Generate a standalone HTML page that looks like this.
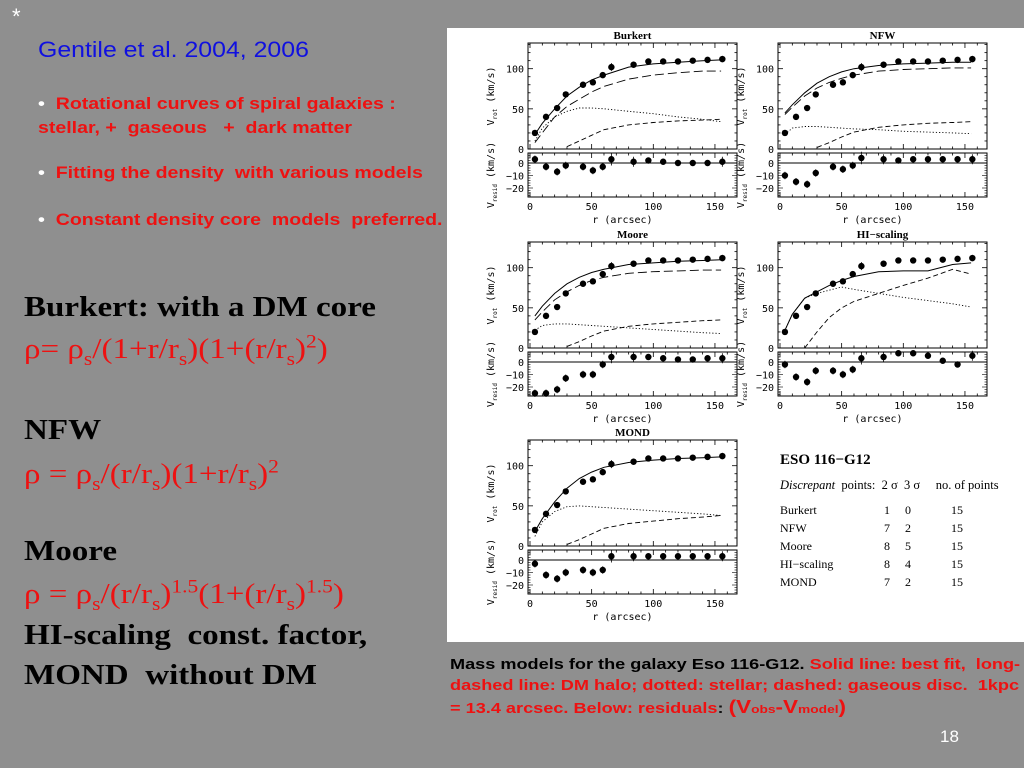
<!DOCTYPE html>
<html><head><meta charset="utf-8">
<style>
body{margin:0;width:1024px;height:768px;background:#8f8f8f;position:relative;overflow:hidden;font-family:"Liberation Sans",sans-serif}
.a{position:absolute;white-space:nowrap;transform-origin:0 0}
.red{color:#ee1111}
.b{font-weight:bold}
.ser{font-family:"Liberation Serif",serif;font-size:29px;line-height:34px;transform:scaleX(1.14)}
sub,sup{font-size:65%;line-height:0}
.bul{font-size:17px;transform:scaleX(1.15)}
</style></head><body>
<div class="a" style="left:12px;top:4px;color:#fff;font-size:22px">*</div>
<div class="a" style="left:38px;top:37px;color:#1010e0;font-size:22px;transform:scaleX(1.13)">Gentile et al. 2004, 2006</div>
<div class="a b red bul" style="left:38px;top:92px;line-height:24px"><span style="color:#fff">•</span>&nbsp; Rotational curves of spiral galaxies :<br>stellar, +&nbsp; gaseous &nbsp; +&nbsp; dark matter</div>
<div class="a b red bul" style="left:38px;top:163px"><span style="color:#fff">•</span>&nbsp; Fitting the density&nbsp; with various models</div>
<div class="a b red bul" style="left:38px;top:210px"><span style="color:#fff">•</span>&nbsp; Constant density core&nbsp; models&nbsp; preferred.</div>

<div class="a ser b" style="left:24px;top:290px">Burkert: with a DM core</div>
<div class="a ser red" style="left:24px;top:332px">ρ= ρ<sub>s</sub>/(1+r/r<sub>s</sub>)(1+(r/r<sub>s</sub>)<sup>2</sup>)</div>
<div class="a ser b" style="left:24px;top:413px">NFW</div>
<div class="a ser red" style="left:24px;top:457px">ρ = ρ<sub>s</sub>/(r/r<sub>s</sub>)(1+r/r<sub>s</sub>)<sup>2</sup></div>
<div class="a ser b" style="left:24px;top:534px">Moore</div>
<div class="a ser red" style="left:24px;top:577px">ρ = ρ<sub>s</sub>/(r/r<sub>s</sub>)<sup>1.5</sup>(1+(r/r<sub>s</sub>)<sup>1.5</sup>)</div>
<div class="a ser b" style="left:24px;top:618px">HI-scaling&nbsp; const. factor,</div>
<div class="a ser b" style="left:24px;top:658px">MOND&nbsp; without DM</div>

<div class="a b" style="left:450px;top:655px;font-size:14.5px;line-height:21px;transform:scaleX(1.25)">Mass models for the galaxy Eso 116-G12. <span class="red">Solid line: best fit,&nbsp; long-<br>dashed line: DM halo; dotted: stellar; dashed: gaseous disc.&nbsp; 1kpc<br>= 13.4 arcsec. Below: residuals<span style="color:#111">:</span> <span style="font-size:18px">(V</span><span style="font-size:11px">obs</span><span style="font-size:18px">-V</span><span style="font-size:11px">model</span><span style="font-size:18px">)</span></span></div>
<div class="a" style="left:940px;top:727px;color:#fff;font-size:17px">18</div>

<svg class="a" style="left:0;top:0" width="1024" height="768" id="chart">
<rect x="447" y="28" width="577" height="614" fill="#fff"/>
<g font-family="Liberation Serif,serif" font-size="12.5">
<text x="780" y="464" font-weight="bold" font-size="15">ESO 116−G12</text>
<text x="780" y="489" xml:space="preserve"><tspan font-style="italic">Discrepant</tspan>  points:  2 σ  3 σ     no. of points</text>
</g>
</svg>
<script>
const radii=[4,13,22,29,43,51,59,66,84,96,108,120,132,144,156];
const vobs=[20,40,51,68,80,83,92,102,105,109,109,109,110,111,112];
const verr=[3,3,3,3,3,3,3,5,4,2,2,2,2,2,4];
const models=["Burkert","NFW","Moore","HI−scaling","MOND"];
const resBurkert=[3,-3,-7,-2,-3,-6,-3,3,1,2,1,0,0,0,1];
const resNFW=[-10,-15,-17,-8,-3,-5,-2,4,3,2,3,3,3,3,3];
const resMoore=[-25,-25,-22,-13,-10,-10,-2,4,4,4,3,2,2,3,3];
const resHI=[-2,-12,-16,-7,-7,-10,-6,3,4,8,7,5,1,-2,5];
const resMOND=[-3,-12,-15,-10,-8,-10,-8,3,3,3,3,3,3,3,3];
const curveR=[4,10,20,30,40,50,60,80,100,120,140,155];
const totBurkert=[18,32,50,66,77,86,92,102,106,108,110,111];
const haloBurkert=[8,20,40,53,62,71,78,87,92,95,97,97];
const starBurkert=[10,26,40,47,51,51,50,47,44,40,37,34];
const gasBurkert=[null,null,null,3,10,17,24,30,33,35,36,37];
const totNFW=[45,55,70,82,90,96,100,104,106,107,108,108];
const haloNFW=[43,52,66,76,83,88,92,97,99,100,101,101];
const starNFW=[18,26,28,28,27,26,25,24,22,21,20,19];
const gasNFW=[null,null,null,2,8,15,21,27,30,32,33,34];
const totMoore=[40,52,68,80,88,94,98,104,106,108,109,110];
const haloMoore=[35,45,60,70,78,84,88,93,95,96,97,97];
const starMoore=[22,28,30,30,29,28,27,25,23,21,19,18];
const gasMoore=[null,null,null,2,8,15,21,27,30,32,34,35];
const totHI=[22,42,62,70,78,84,89,95,96,96,104,106];
const haloHI=[null,null,null,null,null,null,null,null,null,null,null,null];
const starHI=[22,42,62,68,72,76,73,68,63,59,55,51];
const gasHI=[null,null,0,20,38,50,58,68,78,87,98,92];
const totMOND=[18,34,55,72,84,92,98,104,107,109,110,111];
const haloMOND=[null,null,null,null,null,null,null,null,null,null,null,null];
const starMOND=[12,30,43,49,50,49,48,46,44,42,40,38];
const gasMOND=[null,null,null,2,8,15,22,28,31,34,36,38];
const tableModels=["Burkert","NFW","Moore","HI−scaling","MOND"];
const table2s=[1,7,8,8,7];
const table3s=[0,2,5,4,2];
const tableN=[15,15,15,15,15];

const svg=document.getElementById('chart');
const NS='http://www.w3.org/2000/svg';
function mk(tag,attrs,parent){const e=document.createElementNS(NS,tag);for(const k in attrs)e.setAttribute(k,attrs[k]);(parent||svg).appendChild(e);return e;}

const data=[
 {t:totBurkert,h:haloBurkert,s:starBurkert,g:gasBurkert,res:resBurkert},
 {t:totNFW,h:haloNFW,s:starNFW,g:gasNFW,res:resNFW},
 {t:totMoore,h:haloMoore,s:starMoore,g:gasMoore,res:resMoore},
 {t:totHI,h:haloHI,s:starHI,g:gasHI,res:resHI},
 {t:totMOND,h:haloMOND,s:starMOND,g:gasMOND,res:resMOND}];
const offs=[[0,0],[250,0],[0,199],[250,199],[0,397]];

models.forEach((name,i)=>{
 const ox=offs[i][0],oy=offs[i][1];
 const g=mk('g',{});
 
 
 const X0=528+ox,X1=737+ox;
 const xs=r=>530+ox+r*1.233;
 const ym=v=>149+oy-v*0.803;
 const yr=v=>163+oy-v*1.25;
 const T1=43+oy,B1=149+oy,T2=153+oy,B2=197+oy;
 mk('rect',{x:X0,y:T1,width:X1-X0,height:B1-T1,fill:'none',stroke:'#000','stroke-width':1},g);
 mk('rect',{x:X0,y:T2,width:X1-X0,height:B2-T2,fill:'none',stroke:'#000','stroke-width':1},g);
 for(let r=0;r<=160;r+=10){const L=r%50==0?5:2.5;
  [[T1,1],[B1,-1],[T2,1],[B2,-1]].forEach(([y,d])=>mk('line',{x1:xs(r),x2:xs(r),y1:y,y2:y+d*L,stroke:'#000','stroke-width':0.8},g));}
 for(let v=0;v<=130;v+=10){const L=v%50==0?5:2.5;if(ym(v)<T1)continue;
  mk('line',{x1:X0,x2:X0+L,y1:ym(v),y2:ym(v),stroke:'#000','stroke-width':0.8},g);
  mk('line',{x1:X1,x2:X1-L,y1:ym(v),y2:ym(v),stroke:'#000','stroke-width':0.8},g);}
 for(let v=-26;v<=8;v+=2){const L=v%10==0?5:2.5;
  mk('line',{x1:X0,x2:X0+L,y1:yr(v),y2:yr(v),stroke:'#000','stroke-width':0.6},g);
  mk('line',{x1:X1,x2:X1-L,y1:yr(v),y2:yr(v),stroke:'#000','stroke-width':0.6},g);}
 const tf={ 'font-family':'DejaVu Sans Mono,Liberation Mono,monospace','font-size':10,fill:'#000'};
 [0,50,100].forEach(v=>{const t=mk('text',Object.assign({x:X0-4,y:ym(v)+4,'text-anchor':'end'},tf),g);t.textContent=v;});
 [0,-10,-20].forEach(v=>{const t=mk('text',Object.assign({x:X0-4,y:yr(v)+4,'text-anchor':'end'},tf),g);t.textContent=v==0?'0':'−'+(-v);});
 [0,50,100,150].forEach(v=>{const t=mk('text',Object.assign({x:xs(v),y:B2+13,'text-anchor':'middle'},tf),g);t.textContent=v;});
 const xl=mk('text',Object.assign({x:xs(75),y:B2+26,'text-anchor':'middle'},tf),g);xl.textContent='r (arcsec)';
 const yl=mk('text',Object.assign({transform:`translate(${X0-34},${(T1+B1)/2}) rotate(-90)`,'text-anchor':'middle'},tf),g);yl.innerHTML='V<tspan font-size="6" dy="3">rot</tspan><tspan dy="-3"> (km/s)</tspan>';
 const yl2=mk('text',Object.assign({transform:`translate(${X0-34},${(T2+B2)/2}) rotate(-90)`,'text-anchor':'middle'},tf),g);yl2.innerHTML='V<tspan font-size="6" dy="3">resid</tspan><tspan dy="-3"> (km/s)</tspan>';
 const tt=mk('text',{x:(X0+X1)/2,y:T1-4,'text-anchor':'middle','font-family':'Liberation Serif,serif','font-weight':'bold','font-size':11},g);tt.textContent=name;
 const D=data[i];
 const line=(arr,dash,w)=>{let p='';let started=false;arr.forEach((v,k)=>{if(v==null)return;p+=(started?'L':'M')+xs(curveR[k]).toFixed(1)+','+ym(v).toFixed(1);started=true;});
  if(p)mk('path',{d:p,fill:'none',stroke:'#000','stroke-width':w,'stroke-dasharray':dash},g);};
 line(D.t,'none',1);line(D.h,'9 4',0.9);line(D.s,'1.2 2',0.9);line(D.g,'5 3',0.9);
 mk('line',{x1:X0,x2:X1,y1:yr(0),y2:yr(0),stroke:'#000','stroke-width':1},g);
 radii.forEach((r,k)=>{
  mk('line',{x1:xs(r),x2:xs(r),y1:ym(vobs[k]-verr[k]),y2:ym(vobs[k]+verr[k]),stroke:'#000','stroke-width':0.8},g);
  const c=mk('circle',{cx:xs(r),cy:ym(vobs[k]),r:3.2,fill:'#000'},g);
  
  
  const rv=Math.max(-27,Math.min(7,D.res[k]));
  mk('line',{x1:xs(r),x2:xs(r),y1:yr(rv-verr[k]),y2:yr(rv+verr[k]),stroke:'#000','stroke-width':0.8},g);
  const c2=mk('circle',{cx:xs(r),cy:yr(rv),r:3.2,fill:'#000'},g);
  
  
 });
});
tableModels.forEach((m,k)=>{
 const y=514+k*18;
 const row=mk('g',{'font-family':'Liberation Serif,serif','font-size':12});
 
 
 const a=mk('text',{x:780,y:y},row);a.textContent=m;
 const b=mk('text',{x:887,y:y,'text-anchor':'middle'},row);b.textContent=table2s[k];
 const c=mk('text',{x:908,y:y,'text-anchor':'middle'},row);c.textContent=table3s[k];
 const d=mk('text',{x:957,y:y,'text-anchor':'middle'},row);d.textContent=tableN[k];
});
</script>
</body></html>
